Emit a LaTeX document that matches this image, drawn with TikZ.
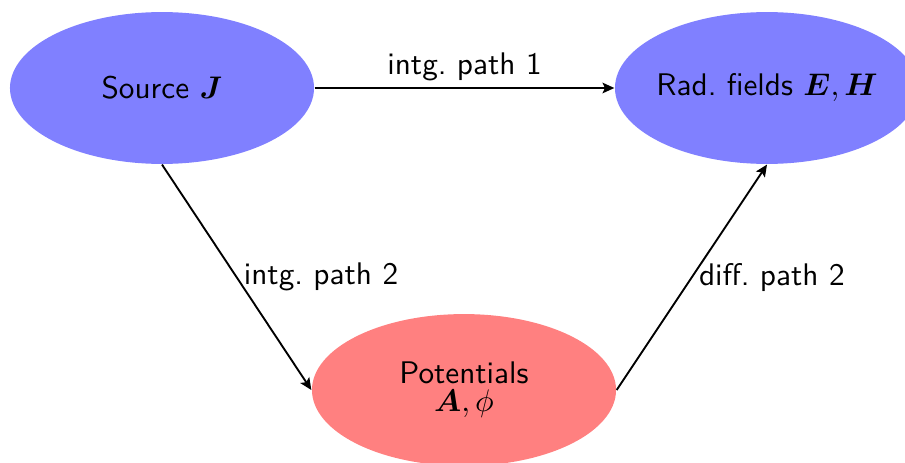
\documentclass[tikz,border=0pt]{standalone}
\usepackage{amsmath,bm}
\usetikzlibrary{arrows.meta,shapes.geometric}
\begin{document}
\begin{tikzpicture}[x=0.32pt,y=-0.32pt,
  every node/.style={font=\sffamily},
  blob/.style={ellipse,inner sep=0pt,minimum width=97.3pt,minimum height=48.6pt,draw=none},
  conn/.style={-{Stealth[length=3.8pt,width=3.4pt,inset=0.8pt]},line width=0.6pt},
  lbl/.style={inner sep=2pt}]
\useasboundingbox (0,0) rectangle (905,462);
\node[blob,fill=blue!50] (src) at (162,88) {\makebox[0pt]{Source $\bm{J}$}};
\node[blob,fill=blue!50] (rad) at (767,88) {\makebox[0pt]{Rad.\ fields $\bm{E},\bm{H}$}};
\node[blob,fill=red!50] (pot) at (464,390) {\makebox[0pt]{\begin{tabular}{@{}c@{}}Potentials\\[-3pt]$\bm{A},\phi$\end{tabular}}};
\draw[conn] (src.east) -- node[lbl,above] {intg.\ path 1} (rad.west);
\draw[conn] (src.south) -- node[lbl,right] {intg.\ path 2} (pot.west);
\draw[conn] (pot.east) -- node[lbl,right] {diff.\ path 2} (rad.south);
\end{tikzpicture}
\end{document}
